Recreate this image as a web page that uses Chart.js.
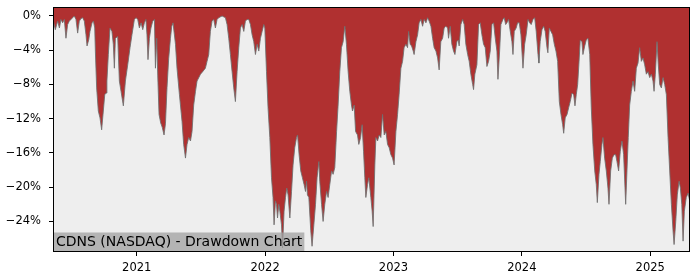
<!DOCTYPE html>
<html>
<head>
<meta charset="utf-8">
<script src="https://cdn.jsdelivr.net/npm/chart.js@4/dist/chart.umd.min.js"></script>
<style>
  html, body { margin: 0; padding: 0; background: #fff; }
  #wrap { width: 700px; height: 280px; }
</style>
</head>
<body>
<div id="wrap"><canvas id="myChart" width="700" height="280"></canvas></div>
<script>
// dates as decimal years, drawdown in percent
const dates = [
  2020.348, 2020.366, 2020.384, 2020.398, 2020.410, 2020.423, 2020.436, 2020.449, 2020.462, 2020.475,
  2020.488, 2020.501, 2020.514, 2020.527, 2020.540, 2020.553, 2020.566, 2020.579, 2020.592, 2020.605,
  2020.613, 2020.626, 2020.636, 2020.652, 2020.663, 2020.673, 2020.678, 2020.688, 2020.701, 2020.714,
  2020.727, 2020.740, 2020.751, 2020.761, 2020.768, 2020.779, 2020.792, 2020.807, 2020.818, 2020.826,
  2020.834, 2020.852, 2020.865, 2020.878, 2020.896, 2020.912, 2020.930, 2020.948, 2020.963, 2020.982,
  2020.995, 2021.008, 2021.021, 2021.034, 2021.047, 2021.060, 2021.072, 2021.080, 2021.088, 2021.099,
  2021.111, 2021.125, 2021.138, 2021.146, 2021.156, 2021.164, 2021.174, 2021.187, 2021.199, 2021.213,
  2021.224, 2021.236, 2021.249, 2021.263, 2021.273, 2021.283, 2021.302, 2021.314, 2021.333, 2021.353,
  2021.366, 2021.380, 2021.392, 2021.405, 2021.419, 2021.431, 2021.444, 2021.458, 2021.470, 2021.497,
  2021.514, 2021.535, 2021.548, 2021.561, 2021.574, 2021.587, 2021.600, 2021.613, 2021.626, 2021.639,
  2021.665, 2021.691, 2021.704, 2021.717, 2021.730, 2021.743, 2021.756, 2021.769, 2021.782, 2021.795,
  2021.808, 2021.821, 2021.834, 2021.847, 2021.860, 2021.873, 2021.886, 2021.899, 2021.912, 2021.925,
  2021.938, 2021.951, 2021.964, 2021.977, 2021.990, 2021.998, 2022.011, 2022.023, 2022.037, 2022.050,
  2022.062, 2022.070, 2022.081, 2022.089, 2022.097, 2022.107, 2022.115, 2022.128, 2022.136, 2022.148,
  2022.159, 2022.169, 2022.179, 2022.193, 2022.206, 2022.218, 2022.231, 2022.245, 2022.253, 2022.265,
  2022.278, 2022.291, 2022.304, 2022.315, 2022.323, 2022.330, 2022.341, 2022.356, 2022.366, 2022.380,
  2022.393, 2022.405, 2022.419, 2022.426, 2022.440, 2022.452, 2022.465, 2022.479, 2022.491, 2022.504,
  2022.518, 2022.530, 2022.543, 2022.557, 2022.569, 2022.582, 2022.595, 2022.608, 2022.621, 2022.634,
  2022.647, 2022.660, 2022.673, 2022.681, 2022.694, 2022.705, 2022.720, 2022.730, 2022.744, 2022.756,
  2022.767, 2022.777, 2022.785, 2022.798, 2022.808, 2022.824, 2022.834, 2022.842, 2022.855, 2022.863,
  2022.876, 2022.889, 2022.902, 2022.915, 2022.928, 2022.941, 2022.954, 2022.967, 2022.980, 2022.993,
  2023.005, 2023.019, 2023.032, 2023.044, 2023.058, 2023.071, 2023.083, 2023.097, 2023.110, 2023.118,
  2023.130, 2023.141, 2023.154, 2023.161, 2023.175, 2023.188, 2023.200, 2023.214, 2023.227, 2023.239,
  2023.253, 2023.266, 2023.278, 2023.292, 2023.305, 2023.317, 2023.331, 2023.344, 2023.356, 2023.369,
  2023.383, 2023.395, 2023.408, 2023.422, 2023.429, 2023.442, 2023.455, 2023.468, 2023.479, 2023.494,
  2023.504, 2023.512, 2023.525, 2023.539, 2023.551, 2023.564, 2023.578, 2023.590, 2023.603, 2023.617,
  2023.624, 2023.634, 2023.650, 2023.663, 2023.676, 2023.689, 2023.702, 2023.715, 2023.728, 2023.741,
  2023.754, 2023.767, 2023.780, 2023.793, 2023.806, 2023.814, 2023.827, 2023.837, 2023.853, 2023.863,
  2023.874, 2023.884, 2023.897, 2023.910, 2023.923, 2023.931, 2023.941, 2023.956, 2023.967, 2023.980,
  2023.993, 2024.009, 2024.022, 2024.034, 2024.048, 2024.061, 2024.073, 2024.087, 2024.100, 2024.112,
  2024.126, 2024.133, 2024.143, 2024.157, 2024.170, 2024.182, 2024.196, 2024.203, 2024.214, 2024.227,
  2024.240, 2024.253, 2024.266, 2024.279, 2024.292, 2024.305, 2024.318, 2024.326, 2024.338, 2024.352,
  2024.365, 2024.377, 2024.391, 2024.404, 2024.414, 2024.424, 2024.435, 2024.445, 2024.455, 2024.468,
  2024.476, 2024.490, 2024.502, 2024.515, 2024.529, 2024.541, 2024.554, 2024.568, 2024.580, 2024.588,
  2024.601, 2024.611, 2024.624, 2024.632, 2024.645, 2024.658, 2024.671, 2024.679, 2024.692, 2024.705,
  2024.718, 2024.731, 2024.741, 2024.754, 2024.767, 2024.780, 2024.793, 2024.809, 2024.819, 2024.829,
  2024.840, 2024.853, 2024.866, 2024.879, 2024.892, 2024.905, 2024.918, 2024.931, 2024.944, 2024.957,
  2024.970, 2024.983, 2024.996, 2025.009, 2025.022, 2025.030, 2025.040, 2025.053, 2025.063, 2025.074,
  2025.087, 2025.100, 2025.113, 2025.126, 2025.139, 2025.152, 2025.165, 2025.178, 2025.186, 2025.199,
  2025.211, 2025.225, 2025.235, 2025.246, 2025.256, 2025.266, 2025.281, 2025.295, 2025.308
];

const drawdown = [
  -0.4, -1.6, -0.6, -1.4, -0.4, -0.8, -0.4, -2.6, -1.0, -0.6,
  -0.4, -0.2, 0, -0.4, -2.0, -0.6, -0.3, -0.2, -0.6, -2.2,
  -3.5, -2.8, -1.8, -0.8, -0.6, -1.4, -4.1, -8.4, -11.1, -11.9,
  -13.3, -11.1, -9.2, -9.0, -7.6, -4.5, -1.4, -1.8, -3.3, -6.1,
  -2.6, -2.4, -7.6, -8.8, -10.5, -7.6, -5.7, -3.7, -2.2, -0.4,
  -0.2, -0.4, -1.4, -0.8, -1.6, -0.8, -0.4, -2.2, -5.1, -2.6,
  -1.4, -0.6, -0.4, -6.1, -2.6, -7.0, -11.5, -12.5, -13.0, -13.9,
  -12.6, -8.4, -5.0, -2.6, -1.2, -0.8, -3.3, -6.1, -9.2, -12.3,
  -15.0, -16.6, -15.0, -14.2, -14.6, -13.5, -10.4, -8.8, -7.6, -6.8,
  -6.5, -6.1, -5.3, -4.5, -1.8, -0.6, -0.4, -1.4, -0.4, -0.2,
  0, -0.2, -1.0, -2.6, -4.5, -6.5, -8.4, -10.0, -6.5, -3.7,
  -1.4, -1.0, -1.8, -0.6, -0.4, -0.4, -1.0, -2.2, -3.0, -4.5,
  -3.3, -4.1, -2.6, -1.8, -1.0, -1.4, -6.5, -10.7, -14.2, -18.9,
  -21.2, -24.4, -21.6, -22.0, -23.6, -22.0, -22.8, -24.4, -27.1, -22.8,
  -21.2, -20.1, -20.9, -23.6, -20.5, -17.4, -15.4, -14.2, -13.9, -16.2,
  -18.1, -18.9, -19.7, -20.5, -19.3, -20.9, -21.2, -25.1, -26.9, -24.4,
  -22.0, -18.9, -17.0, -19.3, -22.0, -24.0, -22.0, -20.5, -21.2, -19.7,
  -18.1, -18.5, -17.7, -13.5, -10.4, -6.5, -3.7, -3.0, -1.2, -3.3,
  -6.5, -8.8, -10.4, -11.1, -10.4, -13.5, -13.9, -15.0, -14.2, -12.7,
  -15.8, -18.9, -21.2, -19.7, -18.9, -21.2, -22.8, -24.6, -17.4, -14.2,
  -14.6, -13.9, -14.2, -11.5, -13.9, -13.5, -15.0, -15.4, -16.2, -16.6,
  -17.4, -13.5, -11.5, -9.2, -6.1, -5.3, -3.7, -3.3, -3.7, -1.8,
  -3.3, -3.5, -4.1, -4.5, -3.0, -2.2, -0.8, -0.4, -1.2, -0.4,
  -0.8, -0.2, -0.6, -1.2, -2.6, -3.7, -4.1, -4.9, -6.3, -3.0,
  -2.6, -1.4, -1.2, -1.4, -2.6, -1.2, -3.3, -4.1, -4.5, -3.0,
  -2.8, -3.5, -1.0, -0.4, -1.0, -3.3, -4.5, -5.3, -6.8, -8.0,
  -8.6, -6.8, -5.7, -1.0, -0.8, -2.2, -3.3, -3.7, -5.9, -5.3,
  -4.1, -1.0, -0.8, -2.6, -4.1, -7.4, -4.1, -1.0, -0.4, -0.2,
  -1.0, -0.8, -0.4, -1.8, -3.0, -4.5, -1.8, -1.4, -0.8, -0.8,
  -2.2, -6.1, -3.3, -2.2, -0.4, -0.8, -1.0, -0.4, -0.2, -1.8,
  -4.5, -5.5, -3.0, -1.6, -1.2, -1.8, -3.7, -4.3, -1.4, -1.8,
  -2.2, -3.3, -4.1, -5.3, -10.0, -11.5, -12.7, -13.7, -11.9, -11.5,
  -10.7, -10.0, -9.0, -9.2, -10.5, -9.2, -8.0, -5.5, -2.8, -3.0,
  -4.5, -3.5, -2.8, -2.6, -4.5, -10.7, -15.0, -18.1, -19.7, -21.8,
  -18.5, -17.0, -15.0, -14.2, -16.6, -18.1, -20.1, -22.0, -18.1, -16.6,
  -16.2, -16.2, -17.0, -18.1, -15.8, -14.6, -16.2, -22.0, -18.1, -14.2,
  -10.4, -8.8, -7.6, -8.8, -6.1, -5.5, -3.7, -5.3, -4.9, -5.7,
  -6.8, -6.5, -7.2, -6.8, -7.6, -8.8, -6.8, -3.0, -5.7, -8.0,
  -8.4, -7.2, -8.0, -9.2, -14.2, -18.1, -22.0, -25.1, -26.7, -24.0,
  -20.9, -19.3, -20.1, -22.0, -26.3, -22.8, -21.2, -20.7, -21.6
];

const yearTicks = [2021, 2022, 2023, 2024, 2025];
const pctTicks = [0, -4, -8, -12, -16, -20, -24];
const title = "CDNS (NASDAQ) - Drawdown Chart";

const FONT = "'DejaVu Sans', sans-serif";

const points = dates.map((d, i) => ({ x: d, y: drawdown[i] }));

const plotBg = {
  id: "plotBg",
  beforeDraw(chart) {
    const { ctx, chartArea: a } = chart;
    ctx.save();
    ctx.fillStyle = "#eeeeee";
    ctx.fillRect(a.left, a.top, a.right - a.left, a.bottom - a.top);
    ctx.restore();
  },
  afterDraw(chart) {
    const { ctx, chartArea: a } = chart;
    ctx.save();
    // label box in the lower left corner
    ctx.font = "14px " + FONT;
    const w = ctx.measureText(title).width + 5;
    const h = 19.5;
    ctx.fillStyle = "rgba(160,160,160,0.75)";
    ctx.fillRect(a.left, a.bottom - h, w, h);
    ctx.fillStyle = "#000";
    ctx.textBaseline = "middle";
    ctx.fillText(title, a.left + 3, a.bottom - h / 2 + 0.5);
    // frame
    ctx.strokeStyle = "#000";
    ctx.lineWidth = 1;
    ctx.strokeRect(Math.round(a.left) + 0.5, Math.round(a.top) + 0.5,
      Math.round(a.right - a.left) - 1, Math.round(a.bottom - a.top) - 1);
    ctx.restore();
  }
};

const ctx = document.getElementById("myChart").getContext("2d");

const myChart = new Chart(ctx, {
  type: "line",
  data: {
    datasets: [{
      data: points,
      borderColor: "rgba(110,110,110,0.85)",
      borderWidth: 1,
      backgroundColor: "#b03030",
      fill: "end",
      pointRadius: 0,
      tension: 0
    }]
  },
  options: {
    responsive: false,
    animation: false,
    parsing: false,
    layout: { padding: { top: 7, right: 10, bottom: 0, left: 0 } },
    plugins: { legend: { display: false }, tooltip: { enabled: false } },
    scales: {
      x: {
        type: "linear",
        min: 2020.348,
        max: 2025.31,
        afterFit: (s) => { s.height = 28; s.paddingLeft = 0; s.paddingRight = 0; },
        afterBuildTicks: (s) => { s.ticks = yearTicks.map(v => ({ value: v })); },
        grid: { drawOnChartArea: false, tickLength: 4, color: "#000" },
        border: { display: false },
        ticks: {
          padding: 5,
          color: "#000",
          font: { family: FONT, size: 11.5 },
          maxRotation: 0,
          callback: (v) => String(v)
        }
      },
      y: {
        type: "linear",
        min: -27.57,
        max: 1.05,
        afterFit: (s) => { s.width = 53; s.paddingTop = 0; s.paddingBottom = 0; },
        afterBuildTicks: (s) => { s.ticks = pctTicks.map(v => ({ value: v })); },
        grid: { drawOnChartArea: false, tickLength: 4, color: "#000" },
        border: { display: false },
        ticks: {
          padding: 8,
          color: "#000",
          font: { family: FONT, size: 11.5 },
          callback: (v) => (v === 0 ? "0%" : "\u2212" + Math.abs(v) + "%")
        }
      }
    }
  },
  plugins: [plotBg]
});
</script>
</body>
</html>
